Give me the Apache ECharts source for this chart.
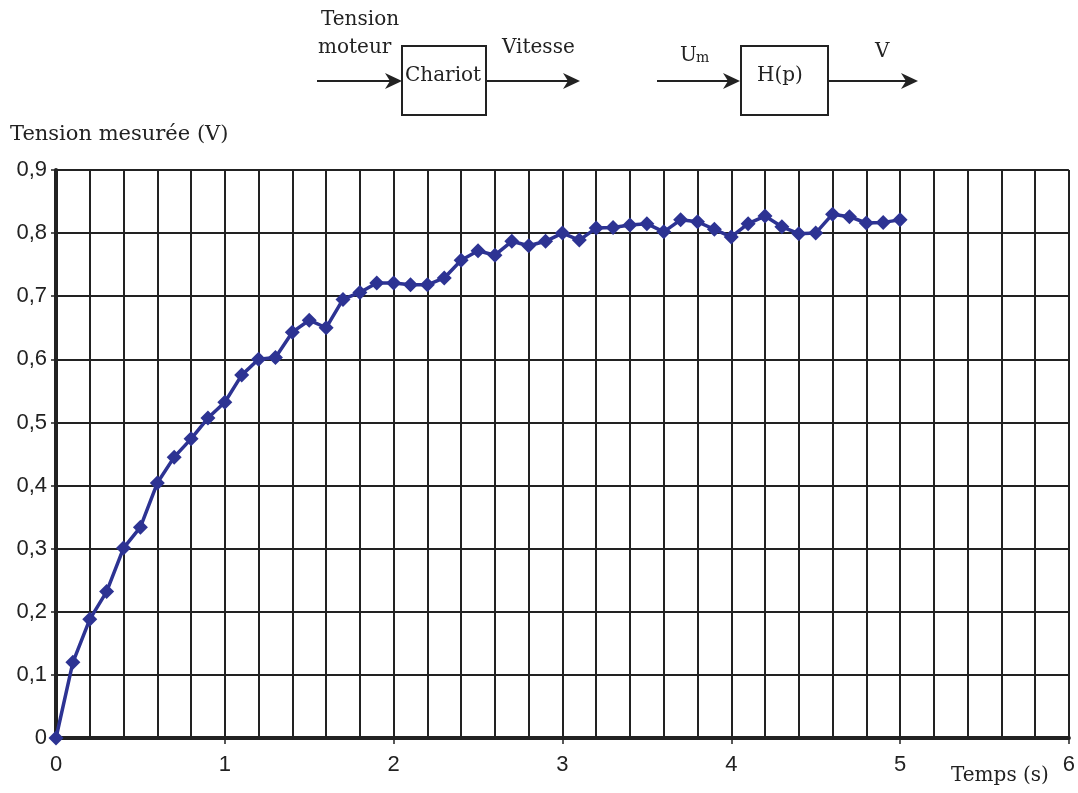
<!DOCTYPE html>
<html><head><meta charset="utf-8">
<script src="https://cdn.jsdelivr.net/npm/echarts@6/dist/echarts.min.js"></script>
<style>html,body{margin:0;padding:0;background:#fff}#c{width:1078px;height:793px}</style>
</head><body><div id="c"></div>
<script>
const times = [0,0.1,0.2,0.3,0.4,0.5,0.6,0.7,0.8,0.9,1.0,1.1,1.2,1.3,1.4,1.5,1.6,1.7,1.8,1.9,2.0,2.1,2.2,2.3,2.4,2.5,2.6,2.7,2.8,2.9,3.0,3.1,3.2,3.3,3.4,3.5,3.6,3.7,3.8,3.9,4.0,4.1,4.2,4.3,4.4,4.5,4.6,4.7,4.8,4.9,5.0];
const tension = [0,0.120,0.188,0.232,0.301,0.334,0.404,0.445,0.474,0.507,0.532,0.575,0.600,0.603,0.643,0.662,0.650,0.695,0.706,0.721,0.721,0.718,0.718,0.729,0.757,0.772,0.765,0.787,0.780,0.787,0.800,0.789,0.808,0.809,0.813,0.815,0.802,0.821,0.818,0.806,0.794,0.815,0.827,0.810,0.799,0.800,0.830,0.826,0.816,0.817,0.821];
const yTicks = [0,0.1,0.2,0.3,0.4,0.5,0.6,0.7,0.8,0.9];
const xTicks = [0,1,2,3,4,5,6];

const chart = echarts.init(document.getElementById('c'));
const ink = '#222';
const serif = '"DejaVu Serif"';
const sans = 'Liberation Sans';
const fmtY = v => (v === 0 ? '0' : v.toFixed(1).replace('.', ','));

function arrow(x1, x2, y) {
  return [
    {type:'line', shape:{x1:x1, y1:y, x2:x2-12, y2:y}, style:{stroke:ink, lineWidth:2}},
    {type:'polygon', shape:{points:[[x2-17,y-8],[x2,y],[x2-17,y+8],[x2-12,y]]}, style:{fill:ink}}
  ];
}

const graphics = [].concat(
  arrow(317, 402, 81), arrow(486, 580, 81), arrow(657, 740, 81), arrow(828, 918, 81),
  [
    {type:'rect', shape:{x:402, y:46, width:84, height:69}, style:{fill:'none', stroke:ink, lineWidth:2}},
    {type:'rect', shape:{x:741, y:46, width:87, height:69}, style:{fill:'none', stroke:ink, lineWidth:2}},
    {type:'text', left:321, top:10, style:{text:'Tension', font:'20px ' + serif, fill:ink}},
    {type:'text', left:318, top:38, style:{text:'moteur', font:'20px ' + serif, fill:ink}},
    {type:'text', left:405, top:66, style:{text:'Chariot', font:'20px ' + serif, fill:ink}},
    {type:'text', left:502, top:38, style:{text:'Vitesse', font:'20px ' + serif, fill:ink}},
    {type:'text', left:680, top:46, style:{text:'U', font:'20px ' + serif, fill:ink}},
    {type:'text', left:696, top:51, style:{text:'m', font:'14px ' + serif, fill:ink}},
    {type:'text', left:757, top:66, style:{text:'H(p)', font:'20px ' + serif, fill:ink}},
    {type:'text', left:875, top:42, style:{text:'V', font:'20px ' + serif, fill:ink}},
    {type:'text', left:10, top:124, style:{text:'Tension mesurée (V)', font:'21px ' + serif, fill:ink}},
    {type:'text', left:951, top:766, style:{text:'Temps (s)', font:'20px ' + serif, fill:ink}}
  ]
);

chart.setOption({
  animation:false,
  backgroundColor:'#fff',
  grid:{left:56, right:8, top:170, bottom:55},
  xAxis:{
    type:'value', min:0, max:6, interval:1,
    axisLine:{show:true, onZero:false, lineStyle:{color:ink, width:4}},
    axisTick:{show:true, length:6, lineStyle:{color:ink, width:1.5}},
    axisLabel:{color:ink, fontSize:22, fontFamily:sans, margin:16, formatter:v => String(v)},
    splitLine:{show:true, lineStyle:{color:ink, width:2}},
    minorTick:{show:false, splitNumber:5},
    minorSplitLine:{show:true, lineStyle:{color:ink, width:2}}
  },
  yAxis:{
    type:'value', min:0, max:0.9, interval:0.1,
    axisLine:{show:true, lineStyle:{color:ink, width:4}},
    axisTick:{show:true, length:5, lineStyle:{color:ink, width:1.5}},
    axisLabel:{color:ink, fontSize:22, fontFamily:sans, margin:9, formatter:fmtY},
    splitLine:{show:true, lineStyle:{color:ink, width:2}}
  },
  series:[{
    type:'line',
    data: times.map((t, i) => [t, tension[i]]),
    symbol:'diamond', symbolSize:15, showAllSymbol:true,
    lineStyle:{color:'#2d3393', width:3.5},
    itemStyle:{color:'#2d3393'},
    z:5
  }],
  graphic: graphics
});
</script></body></html>
